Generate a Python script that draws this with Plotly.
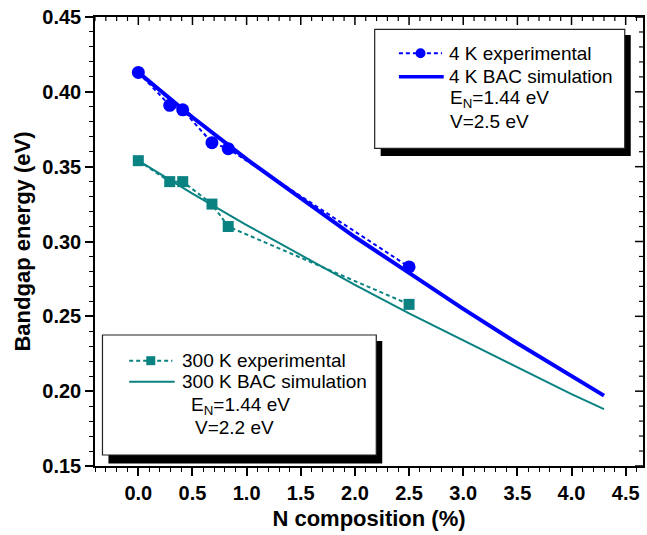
import plotly.graph_objects as go

# ---- data ----
x_exp = [0.0, 0.29, 0.41, 0.68, 0.83, 2.5]
y_exp_4k = [0.413, 0.391, 0.388, 0.366, 0.362, 0.283]
y_exp_300k = [0.354, 0.340, 0.340, 0.325, 0.310, 0.258]

x_sim = [0.0, 0.5, 1.0, 1.5, 2.0, 2.5, 3.0, 3.5, 4.0, 4.3]
y_sim_4k = [0.413, 0.383, 0.355, 0.329, 0.303, 0.279, 0.255, 0.232, 0.210, 0.197]
y_sim_300k = [0.354, 0.332, 0.311, 0.291, 0.271, 0.252, 0.234, 0.216, 0.198, 0.188]

x_ticks = [0.0, 0.5, 1.0, 1.5, 2.0, 2.5, 3.0, 3.5, 4.0, 4.5]
y_ticks = [0.15, 0.20, 0.25, 0.30, 0.35, 0.40, 0.45]

BLUE = "#0000FF"
TEAL = "#0A8282"
FONT = "Liberation Sans, Arial, sans-serif"

W, H = 647, 535
L, R, T, B = 95, 2, 17, 69
PW, PH = W - L - R, H - T - B
XR = [-0.4, 4.66]
YR = [0.15, 0.45]


def px(x):
    return (x - L) / PW


def py(y):
    return (H - B - y) / PH


fig = go.Figure()

fig.add_trace(go.Scatter(x=x_sim, y=y_sim_300k, mode="lines",
                         line=dict(color=TEAL, width=2), showlegend=False))
fig.add_trace(go.Scatter(x=x_sim, y=y_sim_4k, mode="lines",
                         line=dict(color=BLUE, width=4), showlegend=False))
fig.add_trace(go.Scatter(x=x_exp, y=y_exp_300k, mode="lines+markers",
                         line=dict(color=TEAL, width=2, dash="4px,3px"),
                         marker=dict(symbol="square", size=11, color=TEAL),
                         showlegend=False))
fig.add_trace(go.Scatter(x=x_exp, y=y_exp_4k, mode="lines+markers",
                         line=dict(color=BLUE, width=2, dash="4px,3px"),
                         marker=dict(symbol="circle", size=13, color=BLUE),
                         showlegend=False))

shapes = []
annotations = []

# inward ticks on the top and right frame (mirror of the main axes)
minor_x = [round(-0.4 + 0.1 * i, 2) for i in range(51)]
minor_y = [round(0.15 + 0.01 * i, 3) for i in range(31)]
for v in minor_x:
    major = any(abs(v - t) < 1e-6 for t in x_ticks)
    ln = (8 if major else 4) / PH
    shapes.append(dict(type="line", xref="x", yref="paper", x0=v, x1=v,
                       y0=1, y1=1 - ln, line=dict(color="black", width=1.5 if major else 1.2)))
for v in minor_y:
    major = any(abs(v - t) < 1e-6 for t in y_ticks)
    ln = (8 if major else 4) / PW
    shapes.append(dict(type="line", xref="paper", yref="y", y0=v, y1=v,
                       x0=1, x1=1 - ln, line=dict(color="black", width=1.5 if major else 1.2)))


def rect(x0, y0, x1, y1, fill, line_w=0, line_c="black"):
    shapes.append(dict(type="rect", xref="paper", yref="paper",
                       x0=px(x0), x1=px(x1), y0=py(y1), y1=py(y0),
                       fillcolor=fill, line=dict(width=line_w, color=line_c),
                       layer="below"))


def seg(x0, x1, y, color, width, dash="solid"):
    shapes.append(dict(type="line", xref="paper", yref="paper",
                       x0=px(x0), x1=px(x1), y0=py(y), y1=py(y),
                       line=dict(color=color, width=width, dash=dash)))


def text(x, y, s):
    annotations.append(dict(xref="paper", yref="paper", x=px(x), y=py(y),
                            text=s, showarrow=False, xanchor="left",
                            yanchor="middle",
                            font=dict(family=FONT, size=19, color="black")))


# legend box 1 (4 K)
rect(381.7, 35, 632.7, 156, "black")
rect(375.7, 29.3, 626.7, 148.3, "white", 1.2, "#222")
seg(400, 443.3, 53.3, BLUE, 2, "4px,3px")
shapes.append(dict(type="circle", xref="paper", yref="paper",
                   x0=px(421.7 - 5), x1=px(421.7 + 5), y0=py(53.3 + 5), y1=py(53.3 - 5),
                   fillcolor=BLUE, line=dict(width=0)))
text(448, 53.3, "4 K experimental")
seg(400, 445, 76.7, BLUE, 3.5)
text(448, 76.7, "4 K BAC simulation")
text(449, 99, "E<sub>N</sub>=1.44 eV")
text(449, 121, "V=2.5 eV")

# legend box 2 (300 K)
rect(108.5, 341, 383.3, 463.5, "black")
rect(102.5, 335, 377.3, 455, "white", 1.2, "#222")
seg(129.3, 172.7, 360.7, TEAL, 2, "4px,3px")
shapes.append(dict(type="rect", xref="paper", yref="paper",
                   x0=px(151 - 4.5), x1=px(151 + 4.5), y0=py(360.7 + 4.5), y1=py(360.7 - 4.5),
                   fillcolor=TEAL, line=dict(width=0)))
text(180.5, 360.7, "300 K experimental")
seg(129.3, 175, 381.7, TEAL, 2)
text(180.5, 381.7, "300 K BAC simulation")
text(189, 405.5, "E<sub>N</sub>=1.44 eV")
text(193, 427.5, "V=2.2 eV")

tickfont = dict(family=FONT, size=20, color="black", weight="bold")

fig.update_layout(
    width=W, height=H, autosize=False,
    margin=dict(l=L, r=R, t=T, b=B, pad=0),
    paper_bgcolor="white", plot_bgcolor="white",
    shapes=shapes, annotations=annotations,
    showlegend=False,
    xaxis=dict(range=XR, tickvals=x_ticks, tickformat=".1f",
               showgrid=False, zeroline=False,
               showline=True, mirror=True, linecolor="black", linewidth=1.5,
               ticks="outside", ticklen=8, tickwidth=1.5, tickcolor="black",
               minor=dict(dtick=0.1, tick0=0, ticks="outside", ticklen=4,
                          tickwidth=1.2, tickcolor="black", showgrid=False),
               tickfont=tickfont,
               title=dict(text="N composition (%)", standoff=8,
                          font=dict(family=FONT, size=22, color="black", weight="bold"))),
    yaxis=dict(range=YR, tickvals=y_ticks, tickformat=".2f",
               showgrid=False, zeroline=False,
               showline=True, mirror=True, linecolor="black", linewidth=1.5,
               ticks="outside", ticklen=8, tickwidth=1.5, tickcolor="black",
               minor=dict(dtick=0.01, tick0=0.15, ticks="outside", ticklen=4,
                          tickwidth=1.2, tickcolor="black", showgrid=False),
               tickfont=tickfont,
               title=dict(text="Bandgap energy (eV)", standoff=6,
                          font=dict(family=FONT, size=22, color="black", weight="bold"))),
)

fig.write_html("out.html")
